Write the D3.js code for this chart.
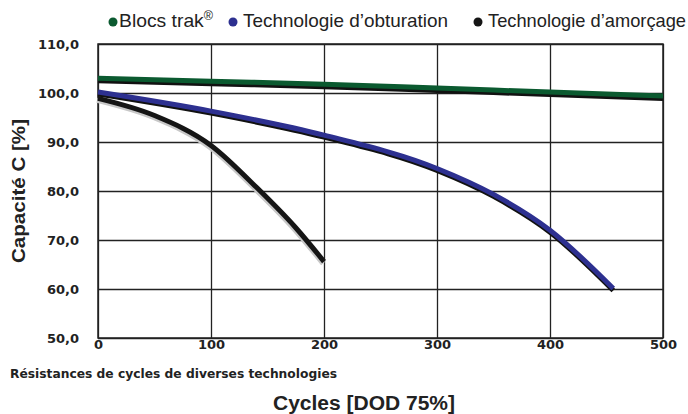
<!DOCTYPE html>
<html>
<head>
<meta charset="utf-8">
<script src="https://cdn.jsdelivr.net/npm/d3@7"></script>
<style>
  body { margin: 0; background: #fff; }
  svg { display: block; }
  .tick text { font-family: "DejaVu Sans", sans-serif; font-weight: bold; font-size: 13px; fill: #222; }
</style>
</head>
<body>
<svg id="canvas" width="688" height="414"></svg>
<script>
// valeurs
let xTicks = [0, 100, 200, 300, 400, 500]
let yTicks = [50, 60, 70, 80, 90, 100, 110]

let trakCycles = [0, 100, 200, 300, 400, 500]
let trakValues = [103, 102.4, 101.8, 101.0, 100.2, 99.4]

let obturCycles = [0, 100, 200, 300, 350, 400, 456]
let obturValues = [100.2, 96.3, 91.4, 84.6, 79.3, 72.0, 60.1]

let amorcCycles = [0, 50, 100, 140, 175, 200]
let amorcValues = [98.9, 95.4, 89.3, 80.8, 72.5, 65.6]

let seriesNames = ['Blocs trak', 'Technologie d’obturation', 'Technologie d’amorçage']
let seriesColors = ['#0b5a30', '#2d3090', '#151515']

let margin = {top: 44, left: 98, right: 25, bottom: 76}
let width = 688, height = 414

let canvas = d3.select('#canvas')

let xScale = d3.scaleLinear().domain([0, 500]).range([margin.left, width - margin.right])
let yScale = d3.scaleLinear().domain([50, 110]).range([height - margin.bottom, margin.top])

// grille
canvas.append('g')
    .attr('transform', 'translate(0,' + (height - margin.bottom) + ')')
    .call(d3.axisBottom(xScale).tickValues(xTicks).tickSize(-(yScale(50) - yScale(110))).tickPadding(4))
    .call(g => g.select('.domain').remove())
    .call(g => g.selectAll('.tick line').attr('stroke', '#222').attr('stroke-width', 1.3))
    .call(g => g.selectAll('.tick text').attr('dy', '0.55em'))

canvas.append('g')
    .attr('transform', 'translate(' + margin.left + ',0)')
    .call(d3.axisLeft(yScale).tickValues(yTicks).tickSize(-(xScale(500) - xScale(0))).tickPadding(19)
        .tickFormat(d => d.toFixed(1).replace('.', ',')))
    .call(g => g.select('.domain').remove())
    .call(g => g.selectAll('.tick line').attr('stroke', '#222').attr('stroke-width', 1.3))
    .call(g => g.selectAll('.tick text').attr('dy', '0.36em'))

canvas.append('rect')
    .attr('x', xScale(0)).attr('y', yScale(110))
    .attr('width', xScale(500) - xScale(0)).attr('height', yScale(50) - yScale(110))
    .attr('fill', 'none').attr('stroke', '#222').attr('stroke-width', 1.5)

let line = d3.line()
    .x(d => xScale(d[0]))
    .y(d => yScale(d[1]))
    .curve(d3.curveMonotoneX)

let drawCurve = (cycles, values, color, shadow, dx, dy) => {
    let pts = cycles.map((c, i) => [c, values[i]])
    canvas.append('path')
        .attr('d', line(pts))
        .attr('transform', 'translate(' + dx + ',' + dy + ')')
        .attr('fill', 'none').attr('stroke', shadow).attr('stroke-width', 5)
    canvas.append('path')
        .attr('d', line(pts))
        .attr('fill', 'none').attr('stroke', color).attr('stroke-width', 5)
}

drawCurve(amorcCycles, amorcValues, seriesColors[2], '#c8c8c8', -1, 2)
drawCurve(obturCycles, obturValues, seriesColors[1], '#111', 0, 2)
drawCurve(trakCycles, trakValues, seriesColors[0], '#111', 0, 2.5)

// légende
let legendX = [113, 233, 478]
let legendLen = [94, 205, 198]
let legend = canvas.append('g')
seriesNames.forEach((name, i) => {
    legend.append('circle')
        .attr('cx', legendX[i]).attr('cy', 22).attr('r', 4.5)
        .attr('fill', seriesColors[i])
    let t = legend.append('text')
        .attr('x', legendX[i] + (i == 0 ? 6 : 10)).attr('y', 27)
        .attr('textLength', legendLen[i]).attr('lengthAdjust', 'spacingAndGlyphs')
        .style('font-family', '"Liberation Sans", Arial, sans-serif')
        .style('font-size', '18.5px').attr('fill', '#222')
        .text(name)
    if (i == 0) {
        t.append('tspan').attr('dy', -7).style('font-size', '12px').text('®')
    }
})

// titres
canvas.append('text')
    .attr('transform', 'translate(25,' + yScale(80) + ') rotate(-90)')
    .attr('text-anchor', 'middle')
    .attr('textLength', 144).attr('lengthAdjust', 'spacingAndGlyphs')
    .style('font-family', '"Liberation Sans", Arial, sans-serif')
    .style('font-weight', 'bold').style('font-size', '19px').attr('fill', '#222')
    .text('Capacité C [%]')

canvas.append('text')
    .attr('x', 10).attr('y', 378)
    .attr('textLength', 327).attr('lengthAdjust', 'spacingAndGlyphs')
    .style('font-family', '"DejaVu Sans", sans-serif')
    .style('font-weight', 'bold').style('font-size', '11.5px').attr('fill', '#222')
    .text('Résistances de cycles de diverses technologies')

canvas.append('text')
    .attr('x', 273).attr('y', 410)
    .attr('textLength', 182).attr('lengthAdjust', 'spacingAndGlyphs')
    .style('font-family', '"Liberation Sans", Arial, sans-serif')
    .style('font-weight', 'bold').style('font-size', '19.5px').attr('fill', '#222')
    .text('Cycles [DOD 75%]')
</script>
</body>
</html>
